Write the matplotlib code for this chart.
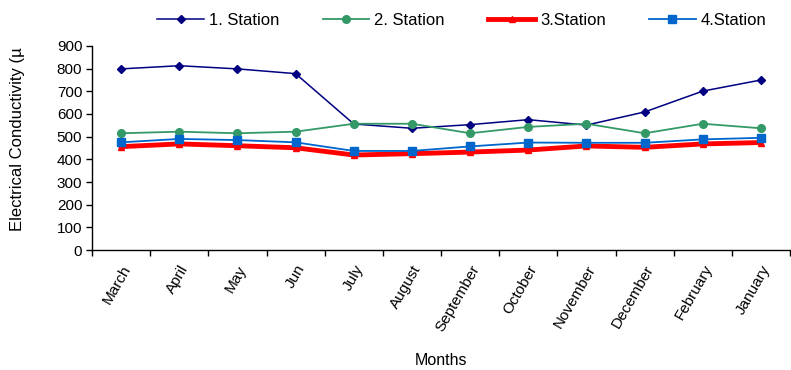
import matplotlib.pyplot as plt
import numpy as np

months = ['March', 'April', 'May', 'Jun', 'July', 'August', 'September',
          'October', 'November', 'December', 'February', 'January']
station1 = [799, 813, 799, 778, 556, 537, 553, 575, 551, 609, 701, 750]
station2 = [515, 522, 515, 522, 557, 557, 515, 543, 557, 515, 557, 537]
station3 = [456, 468, 460, 451, 419, 425, 432, 441, 459, 453, 468, 474]
station4 = [475, 490, 485, 475, 437, 437, 457, 474, 473, 473, 488, 495]

plt.rcParams['font.family'] = ['Liberation Sans', 'DejaVu Sans']

fig = plt.figure(figsize=(7.91, 3.70), dpi=100)
ax = fig.add_axes([0.1163, 0.3243, 0.8825, 0.5514])

x = np.arange(len(months))
ax.plot(x, station1, color='#000080', lw=1.1, marker='D', ms=4.5, label='1. Station')
ax.plot(x, station2, color='#339966', lw=1.3, marker='o', ms=5.5, label='2. Station')
ax.plot(x, station3, color='#ff0000', lw=3.5, marker='^', ms=5, label='3.Station')
ax.plot(x, station4, color='#0066cc', lw=1.3, marker='s', ms=5.5, label='4.Station')

ax.set_xlim(-0.5, len(months) - 0.5)
ax.set_ylim(0, 900)
ax.set_yticks(range(0, 901, 100))
ax.tick_params(axis='y', direction='out', length=4, width=1, labelsize=11, pad=3)

# category ticks sit between months, labels at month centres
ax.set_xticks(x)
ax.set_xticklabels(months, rotation=60, ha='right', rotation_mode='anchor', fontsize=11)
ax.tick_params(axis='x', which='major', length=0, pad=9)
ax.set_xticks(np.arange(-0.5, len(months)), minor=True)
ax.tick_params(axis='x', which='minor', direction='out', length=4, width=1)

for side in ['top', 'right']:
    ax.spines[side].set_visible(False)
for side in ['left', 'bottom']:
    ax.spines[side].set_linewidth(1)

ax.set_xlabel('Months', fontsize=11.5, labelpad=14)
fig.text(18 / 791, 1 - 139 / 370, 'Electrical Conductivity (µ', rotation=90,
         ha='center', va='center', fontsize=12)

ax.legend(loc='center', bbox_to_anchor=(0.53, 1.125), ncol=4, frameon=False,
          fontsize=12, handlelength=2.8, columnspacing=2.6, handletextpad=0.3)

fig.savefig('out.png', dpi=100)
